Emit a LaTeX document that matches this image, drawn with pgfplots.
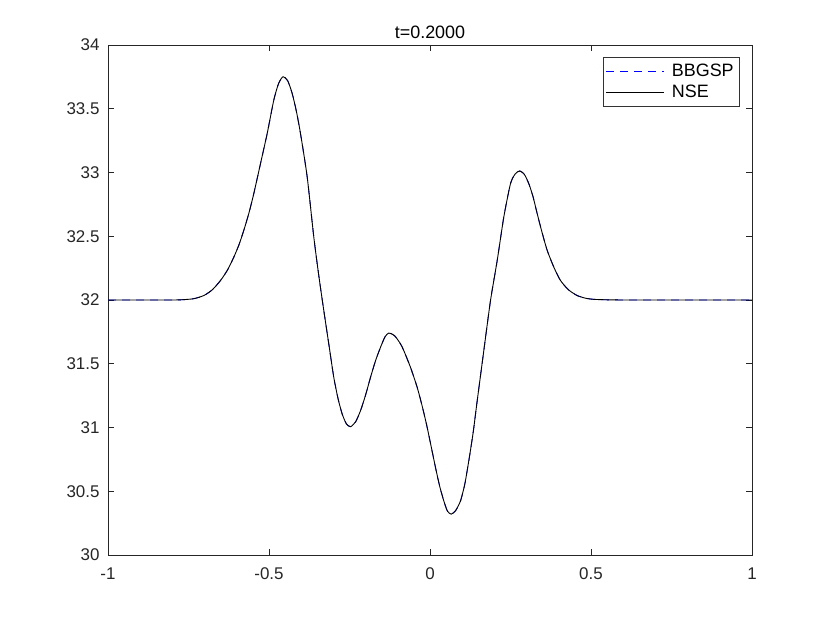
\documentclass[border=0pt]{standalone}
\usepackage{pgfplots}
\pgfplotsset{compat=1.18}
\usepackage{pgfplotstable}
\usepackage{fontspec}
\setmainfont{Liberation Sans}
\pgfplotstableread{
x y
-1.0000 32.000
-0.9000 32.000
-0.8000 32.000
-0.7700 32.002
-0.7340 32.010
-0.7025 32.035
-0.6760 32.080
-0.6506 32.153
-0.6290 32.235
-0.6093 32.336
-0.5930 32.435
-0.5783 32.546
-0.5620 32.685
-0.5472 32.835
-0.5264 33.070
-0.5056 33.306
-0.4851 33.568
-0.4700 33.700
-0.4565 33.751
-0.4420 33.720
-0.4280 33.620
-0.4150 33.480
-0.4022 33.306
-0.3814 32.965
-0.3609 32.494
-0.3453 32.190
-0.3298 31.917
-0.3140 31.650
-0.2988 31.393
-0.2850 31.220
-0.2727 31.106
-0.2600 31.030
-0.2469 31.006
-0.2310 31.045
-0.2158 31.132
-0.2000 31.255
-0.1848 31.393
-0.1690 31.525
-0.1537 31.629
-0.1400 31.710
-0.1280 31.741
-0.1100 31.720
-0.0916 31.656
-0.0814 31.603
-0.0606 31.472
-0.0398 31.315
-0.0240 31.165
-0.0087 31.000
 0.0171 30.686
 0.0300 30.540
 0.0429 30.424
 0.0540 30.345
 0.0658 30.320
 0.0800 30.350
 0.0947 30.424
 0.1080 30.555
 0.1205 30.739
 0.1340 30.960
 0.1466 31.210
 0.1671 31.603
 0.1879 31.996
 0.2087 32.310
 0.2292 32.651
 0.2500 32.913
 0.2650 32.990
 0.2789 33.012
 0.2930 32.985
 0.3068 32.913
 0.3200 32.810
 0.3329 32.677
 0.3480 32.530
 0.3640 32.389
 0.3850 32.255
 0.4053 32.153
 0.4300 32.080
 0.4571 32.035
 0.4830 32.014
 0.5087 32.005
 0.5600 32.001
 0.6230 32.000
 0.8000 32.000
 1.0000 32.000
}\datatable
\begin{document}
\begin{tikzpicture}
\path[use as bounding box] (0,0) rectangle (830bp,623bp);
\begin{axis}[
  at={(108bp,68bp)}, anchor=south west,
  scale only axis, width=644bp, height=510bp,
  xmin=-1, xmax=1, ymin=30, ymax=34,
  xtick={-1,-0.5,0,0.5,1},
  xticklabels={-1,-0.5,0,0.5,1},
  ytick={30,30.5,31,31.5,32,32.5,33,33.5,34},
  yticklabels={30,30.5,31,31.5,32,32.5,33,33.5,34},
  tick align=inside,
  major tick length=6bp,
  axis line style={draw=black!85, line width=0.6bp},
  every tick/.style={draw=black!85, line width=0.6bp},
  tick label style={font=\fontsize{17}{20}\selectfont, text=black!85},
  xticklabel style={yshift=-9bp},
  yticklabel style={xshift=-5bp},
  title={t=0.2000},
  title style={font=\fontsize{18}{21}\selectfont, yshift=-3bp},
  legend style={at={(rel axis cs:1,1)}, xshift=-12bp, yshift=-12bp, anchor=north east,
    draw=black!80, line width=0.6bp,
    font=\fontsize{18}{21}\selectfont, inner xsep=3bp, inner ysep=5bp, row sep=3bp,
    column sep=4bp,
    nodes={inner xsep=3bp, inner ysep=2bp},
    cells={anchor=west}},
  legend image code/.code={\draw[#1] (0bp,0bp) -- (58bp,0bp);},
]
\addplot[blue, dash pattern=on 8bp off 6bp, line width=0.9bp, smooth, tension=0.4] table[x=x,y=y] {\datatable};
\addlegendentry{BBGSP}
\addplot[black, line width=0.9bp, smooth, tension=0.4] table[x=x,y=y] {\datatable};
\addlegendentry{NSE}
\end{axis}
\end{tikzpicture}
\end{document}
